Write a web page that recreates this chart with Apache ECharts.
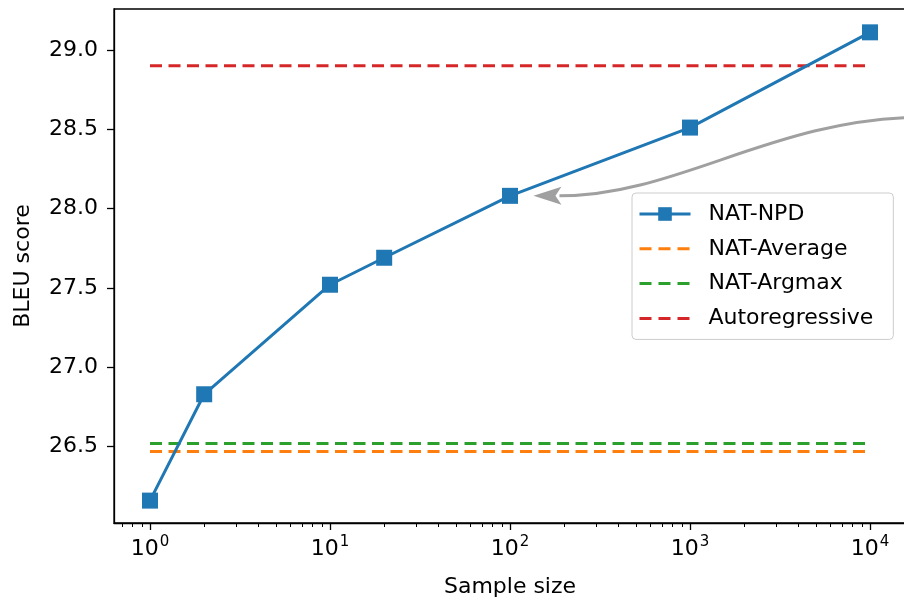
<!DOCTYPE html>
<html>
<head>
<meta charset="utf-8">
<script src="https://cdn.jsdelivr.net/npm/echarts@6/dist/echarts.min.js"></script>
<style>
  html, body { margin: 0; padding: 0; background: #fff; }
  #main { width: 904px; height: 599px; }
</style>
</head>
<body>
<div id="main"></div>
<script>
// sample sizes and BLEU of NAT-NPD
const sampleSizes = [1, 2, 10, 20, 100, 1000, 10000];
const npdScores = [26.16, 26.83, 27.52, 27.69, 28.08, 28.51, 29.11];

// baselines, drawn flat across the sample range
const baselineNames = ['NAT-Average', 'NAT-Argmax', 'Autoregressive'];
const baselineScores = [26.47, 26.52, 28.90];
const baselineColors = ['#ff7f0e', '#2ca02c', '#d62728'];

const xMajorTicks = [1, 10, 100, 1000, 10000];
const yTicks = [26.5, 27.0, 27.5, 28.0, 28.5, 29.0];

// matplotlib style minor ticks 2..9 in each decade
const xMinorTicks = [];
for (let d = 0.1; d <= 10000; d *= 10) {
  for (let k = 2; k <= 9; k++) xMinorTicks.push(+(k * d).toPrecision(3));
}

const FONT = 'DejaVu Sans';
const FS = 22;
const chart = echarts.init(document.getElementById('main'));

const xRange = [sampleSizes[0], sampleSizes[sampleSizes.length - 1]];

const series = [{
  name: 'NAT-NPD',
  type: 'line',
  data: sampleSizes.map((s, i) => [s, npdScores[i]]),
  symbol: 'rect',
  symbolSize: 16,
  lineStyle: { width: 3, color: '#1f77b4' },
  itemStyle: { color: '#1f77b4' },
  z: 5
}];
baselineNames.forEach((n, i) => {
  series.push({
    name: n,
    type: 'line',
    data: xRange.map(x => [x, baselineScores[i]]),
    symbol: 'none',
    lineStyle: { width: 3, color: baselineColors[i], type: [12, 6.5] },
    itemStyle: { color: baselineColors[i] },
    z: 3
  });
});

const legendData = [{
  name: 'NAT-NPD',
  lineStyle: { width: 3 }
}].concat(baselineNames.map(n => ({
  name: n,
  itemStyle: { opacity: 0 },
  lineStyle: { width: 3, type: [12, 7] }
})));

const logMin = Math.pow(10, -0.2);
const logMax = Math.pow(10, 4.2);

chart.setOption({
  animation: false,
  grid: {
    left: 114, right: -2, top: 9, bottom: 76,
    outerBoundsMode: 'none', containLabel: false,
    show: true, borderColor: '#000', borderWidth: 1.3
  },
  legend: {
    orient: 'vertical',
    left: 632, top: 193,
    padding: [10, 20, 10, 6],
    itemWidth: 51, itemHeight: 17, itemGap: 12.8,
    backgroundColor: 'rgba(255,255,255,0.8)',
    borderColor: '#cccccc', borderWidth: 1, borderRadius: 4,
    textStyle: { fontFamily: FONT, fontSize: FS, color: '#000', lineHeight: 20, padding: [0, 0, 0, 13] },
    data: legendData
  },
  xAxis: [{
    type: 'log', logBase: 10, min: logMin, max: logMax,
    name: 'Sample size', nameLocation: 'middle', nameGap: 53,
    nameTextStyle: { fontFamily: FONT, fontSize: FS, color: '#000' },
    axisLine: { lineStyle: { color: '#000', width: 1.3 } },
    axisTick: { length: 7, lineStyle: { color: '#000', width: 1.3 }, customValues: xMajorTicks },
    axisLabel: {
      margin: 12, customValues: xMajorTicks,
      fontFamily: FONT, fontSize: FS, color: '#000',
      formatter: v => '10{sup|' + Math.round(Math.log10(v)) + '}',
      rich: { sup: { fontFamily: FONT, fontSize: 15, color: '#000', verticalAlign: 'top', padding: [0, 0, 13, 1] } }
    },
    splitLine: { show: false }
  }, {
    type: 'log', logBase: 10, min: logMin, max: logMax, position: 'bottom',
    axisLine: { show: false },
    axisTick: { length: 4, lineStyle: { color: '#000', width: 1 }, customValues: xMinorTicks },
    axisLabel: { show: false },
    splitLine: { show: false }
  }],
  yAxis: {
    type: 'value', min: 26.019, max: 29.257,
    name: 'BLEU score', nameLocation: 'middle', nameGap: 80,
    nameTextStyle: { fontFamily: FONT, fontSize: FS, color: '#000' },
    axisLine: { show: true, lineStyle: { color: '#000', width: 1.3 } },
    axisTick: { show: true, length: 7, lineStyle: { color: '#000', width: 1.3 }, customValues: yTicks },
    axisLabel: {
      margin: 16, customValues: yTicks,
      fontFamily: FONT, fontSize: FS, color: '#000',
      formatter: v => v.toFixed(1)
    },
    splitLine: { show: false }
  },
  series: series
});

// gray annotation arrow pointing at the 10^2 point
const tip = chart.convertToPixel({ xAxisIndex: 0, yAxisIndex: 0 }, [135, 28.08]);
const tail = chart.convertToPixel({ xAxisIndex: 0, yAxisIndex: 0 }, [20000, 28.575]);
const baseX = tip[0] + 26;
chart.setOption({
  graphic: [{
    type: 'bezierCurve',
    shape: {
      x1: tail[0], y1: tail[1],
      cpx1: tail[0] - 150, cpy1: tail[1],
      cpx2: baseX + 120, cpy2: tip[1],
      x2: baseX, y2: tip[1]
    },
    style: { stroke: '#a0a0a0', lineWidth: 3, fill: null },
    z: 10
  }, {
    type: 'polygon',
    shape: { points: [[tip[0], tip[1]], [baseX + 2, tip[1] - 9], [baseX - 4, tip[1]], [baseX + 2, tip[1] + 9]] },
    style: { fill: '#a0a0a0' },
    z: 10
  }]
});
</script>
</body>
</html>
